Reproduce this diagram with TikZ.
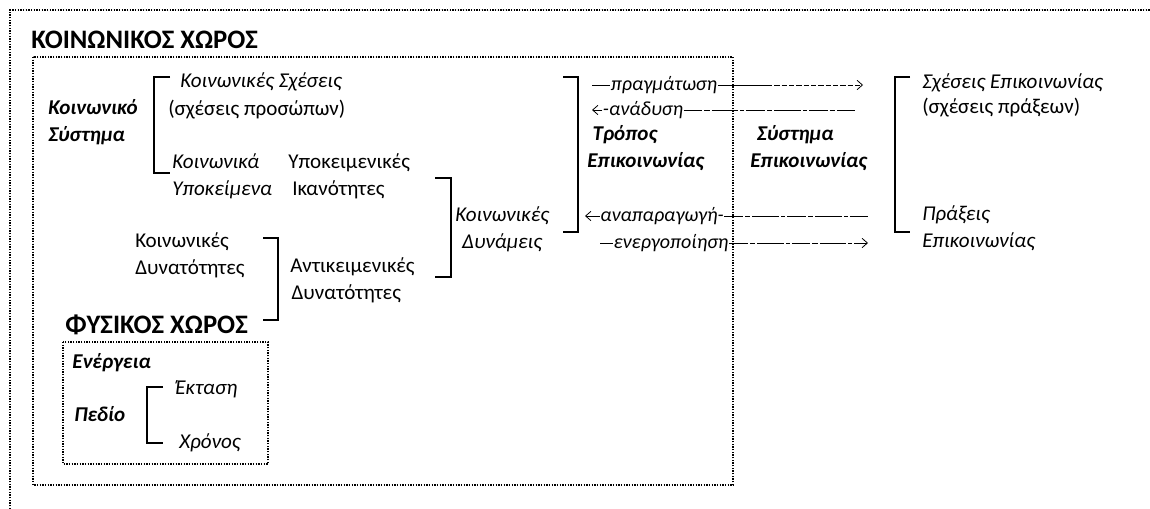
\documentclass[tikz,border=0pt]{standalone}
\usepackage{fontspec}
\setmainfont{Carlito}
\usetikzlibrary{arrows.meta}

\begin{document}
\begin{tikzpicture}[x=0.75pt,y=-0.75pt]
  \tikzstyle{space_frame}=[line width=0.9pt, dash pattern=on 0.9pt off 1.1pt]
  \tikzstyle{bracket_line}=[line width=1.1pt]
  \tikzstyle{item_text}=[inner sep=0pt, anchor=west, align=left, font=\fontsize{15.8}{20}\selectfont]
  \tikzstyle{item_it}=[item_text, font=\fontsize{15.8}{20}\selectfont\itshape]
  \tikzstyle{item_bf}=[item_text, font=\fontsize{15.8}{20}\selectfont\bfseries\itshape]
  \tikzstyle{head_text}=[inner sep=0pt, anchor=west, font=\fontsize{20}{22}\selectfont\bfseries]
  \tikzstyle{flow_line}=[line width=0.6pt]
  \tikzstyle{flow_mixed}=[flow_line, dash pattern=on 14pt off 1.5pt on 4pt off 1.5pt on 20pt off 1.5pt on 3pt off 1.5pt]
  \tikzstyle{flow_label}=[inner sep=0.3pt, font=\fontsize{15}{17}\selectfont\itshape]
  \tikzstyle{flow_tip}=[-{Straight Barb[length=4pt,width=7pt]}]

  \useasboundingbox (0,0) rectangle (1150,509);

  % frames
  \draw[space_frame] (10,509) -- (10,10) -- (1150,10);
  \draw[space_frame] (33,57) rectangle (733,485);
  \draw[space_frame] (63,342) rectangle (268,464);

  \node[head_text] (koin_xoros) at (31,40) {ΚΟΙΝΩΝΙΚΟΣ ΧΩΡΟΣ};
  \node[head_text] (fys_xoros) at (65,325) {ΦΥΣΙΚΟΣ ΧΩΡΟΣ};

  % social system
  \node[item_bf] (koin_syst) at (48,122) {Κοινωνικό\\Σύστημα};
  \node[item_it] (koin_sx) at (180,82) {Κοινωνικές Σχέσεις};
  \node[item_text] (sx_pros) at (168,110) {(σχέσεις προσώπων)};
  \node[item_it] (koin_ypok) at (172,176) {Κοινωνικά\\Υποκείμενα};
  \node[item_text] (ypok_ikan) at (288,176) {Υποκειμενικές\\\hspace{3pt}Ικανότητες};
  \draw[bracket_line] (170,77) -- (154,77) -- (154,173) -- (170,173);

  \node[item_text] (koin_dynat) at (135,255) {Κοινωνικές\\Δυνατότητες};
  \node[item_text] (antik_dynat) at (290,280) {Αντικειμενικές\\\hspace{1pt}Δυνατότητες};
  \draw[bracket_line] (263,238) -- (278,238) -- (278,320) -- (263,320);

  \node[item_it, align=center] (koin_dynam) at (455,229) {Κοινωνικές\\Δυνάμεις};
  \draw[bracket_line] (435,178) -- (451,178) -- (451,277) -- (435,277);

  % communication
  \node[item_bf] (tropos) at (587,148) {\hspace{4pt}Τρόπος\\Επικοινωνίας};
  \draw[bracket_line] (563,77) -- (578,77) -- (578,232) -- (563,232);
  \node[item_bf] (systima) at (750,148) {\hspace{5pt}Σύστημα\\Επικοινωνίας};
  \node[item_it] (sx_epik) at (922,83) {Σχέσεις Επικοινωνίας};
  \node[item_text] (sx_prax) at (922,108) {(σχέσεις πράξεων)};
  \node[item_it] (praxeis) at (922,228) {Πράξεις\\Επικοινωνίας};
  \draw[bracket_line] (910,77) -- (895,77) -- (895,232) -- (910,232);

  % flows
  \coordinate (pr_a) at (592,85);
  \coordinate (pr_m) at (767,85);
  \coordinate (pr_b) at (863,85);
  \node[flow_label, fill=white] (pragm) at (664,85) {πραγμάτωση};
  \draw[flow_line] (pr_a) -- (pragm);
  \draw[flow_line] (pragm) -- (pr_m);
  \draw[flow_line, dash pattern=on 4pt off 1.5pt, flow_tip] (pr_m) -- (pr_b);

  \coordinate (an_a) at (592,110);
  \coordinate (an_b) at (855,110);
  \node[flow_label, fill=white] (anad) at (643,110) {-ανάδυση};
  \draw[flow_line, flow_tip] (anad) -- (an_a);
  \draw[flow_mixed] (anad) -- (an_b);

  \coordinate (ap_a) at (585,216);
  \coordinate (ap_b) at (870,216);
  \node[flow_label, fill=white] (anapar) at (662,216) {αναπαραγωγή-};
  \draw[flow_line, flow_tip] (anapar) -- (ap_a);
  \draw[flow_mixed] (anapar) -- (ap_b);

  \coordinate (en_a) at (600,243);
  \coordinate (en_b) at (868,243);
  \node[flow_label, fill=white] (energ) at (671,243) {ενεργοποίηση};
  \draw[flow_line] (en_a) -- (energ);
  \draw[flow_mixed, flow_tip] (energ) -- (en_b);

  % physical space
  \node[item_bf] (energeia) at (72,363) {Ενέργεια};
  \node[item_bf] (pedio) at (74,414) {Πεδίο};
  \node[item_it] (ektasi) at (175,389) {Έκταση};
  \node[item_it] (xronos) at (179,443) {Χρόνος};
  \draw[bracket_line] (163,387) -- (147,387) -- (147,443) -- (163,443);
\end{tikzpicture}
\end{document}
